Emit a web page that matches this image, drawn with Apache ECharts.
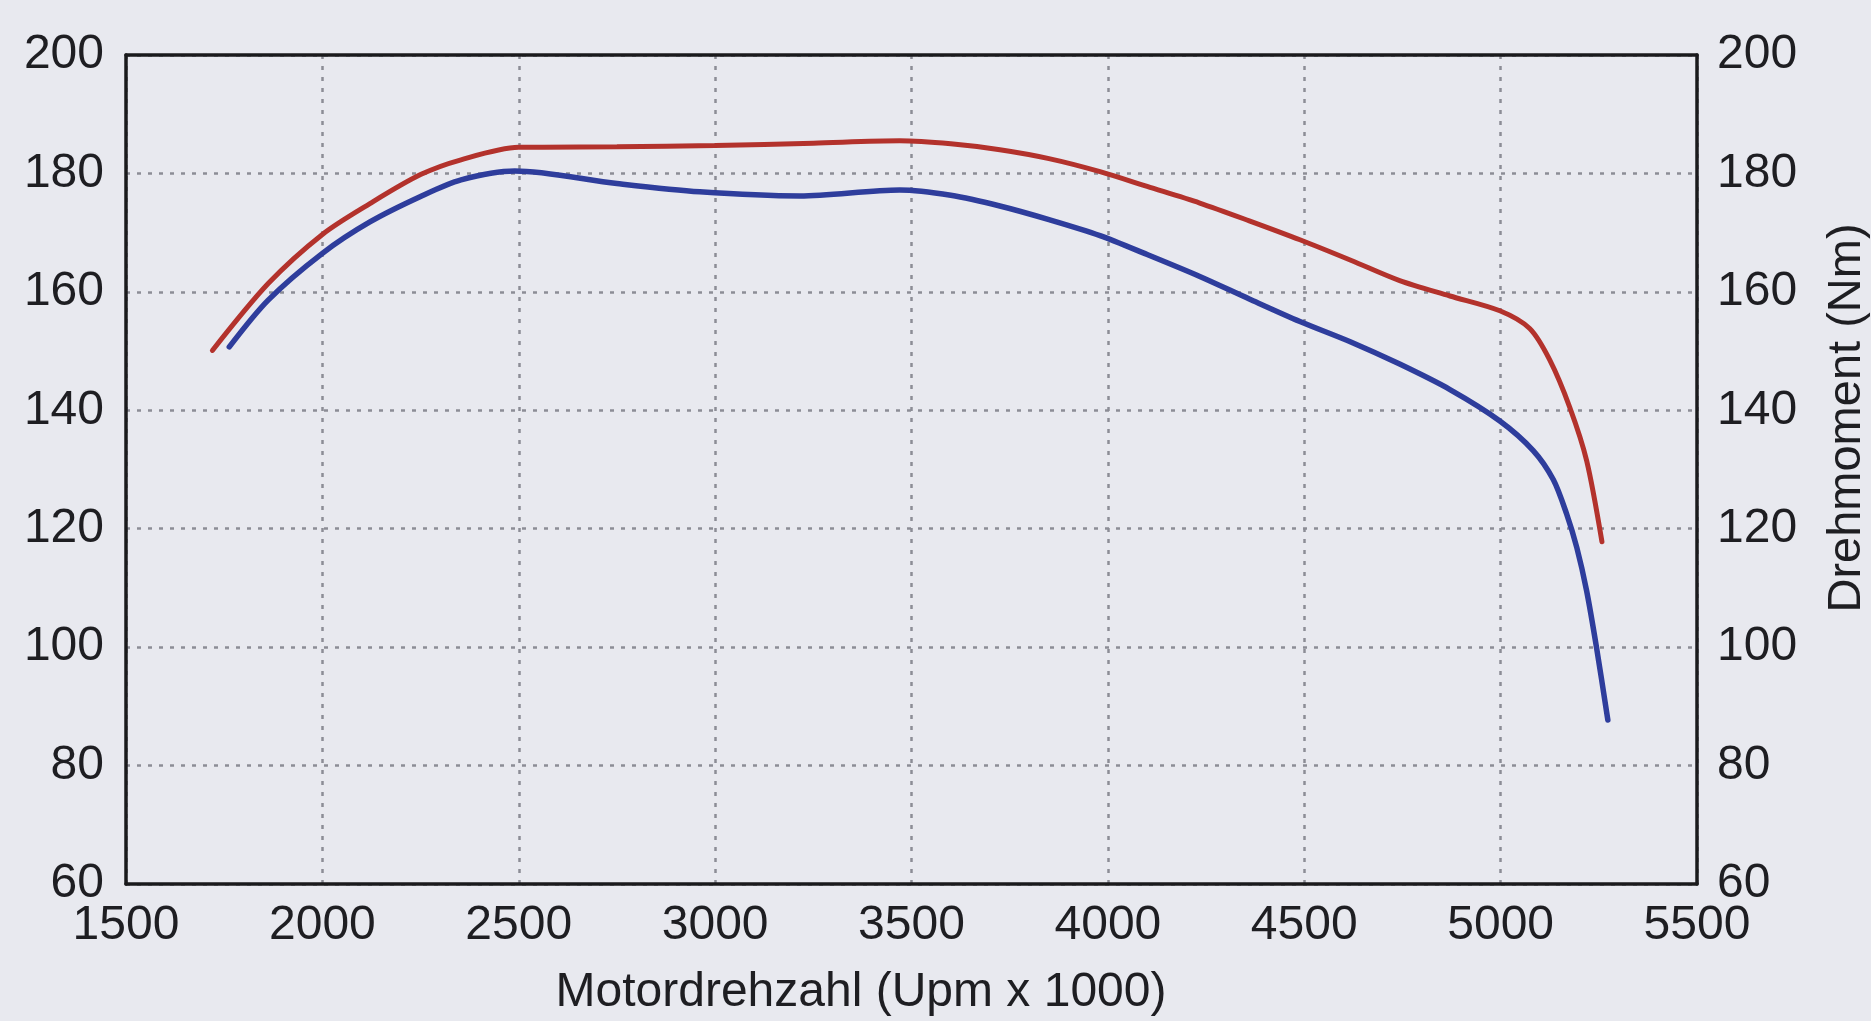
<!DOCTYPE html>
<html>
<head>
<meta charset="utf-8">
<script src="https://cdn.jsdelivr.net/npm/echarts@6/dist/echarts.min.js"></script>
<style>
  html, body { margin: 0; padding: 0; background: #e8e9ef; }
  #chart { width: 1871px; height: 1021px; }
</style>
</head>
<body>
<div id="chart"></div>
<script>
// x ticks (rpm) and y ticks (Nm)
const xTicks = [1500, 2000, 2500, 3000, 3500, 4000, 4500, 5000, 5500];
const yTicks = [60, 80, 100, 120, 140, 160, 180, 200];

// red curve
const rpmRed = [1720, 1862, 2000, 2121, 2250, 2353, 2500, 2750, 3000, 3250, 3470, 3600, 3725, 3850, 3980, 4100, 4234, 4360, 4489, 4620, 4743, 4871, 4998, 5074, 5125, 5176, 5219, 5258];
const torqueRed = [150.1, 161.4, 169.7, 174.9, 179.8, 182.3, 184.4, 184.5, 184.7, 185.1, 185.5, 185.0, 184.0, 182.5, 180.3, 177.8, 175.0, 172.0, 168.8, 165.3, 161.9, 159.3, 156.8, 153.8, 148.5, 140.5, 131.5, 117.8];

// blue curve
const rpmBlue = [1763, 1862, 2000, 2121, 2250, 2353, 2490, 2750, 2961, 3216, 3470, 3600, 3725, 3850, 3980, 4100, 4234, 4360, 4489, 4620, 4743, 4871, 4998, 5083, 5134, 5168, 5194, 5219, 5244, 5273];
const torqueBlue = [150.7, 158.6, 166.5, 171.8, 176.1, 178.9, 180.4, 178.3, 176.9, 176.2, 177.2, 176.3, 174.5, 172.2, 169.5, 166.3, 162.6, 158.8, 155.0, 151.5, 147.8, 143.5, 138.2, 133.2, 128.3, 122.5, 116.8, 109.5, 100.0, 87.7];

const chart = echarts.init(document.getElementById('chart'));

const font = '"Liberation Sans", Arial, sans-serif';
const labelStyle = { color: '#1e1e22', fontSize: 48, fontFamily: font, formatter: (v) => String(v) };
const dotted = { color: '#8c8d96', width: 2.5, type: [4, 7] };
const frame = { show: true, onZero: false, lineStyle: { color: '#1a1a1c', width: 3.5 } };

const pairs = (xs, ys) => xs.map((x, i) => [x, ys[i]]);

const xBase = {
  type: 'value',
  min: xTicks[0],
  max: xTicks[xTicks.length - 1],
  interval: 500,
  axisTick: { show: false },
};
const yBase = {
  type: 'value',
  min: yTicks[0],
  max: yTicks[yTicks.length - 1],
  interval: 20,
  axisTick: { show: false },
  splitLine: { show: false },
};

chart.setOption({
  backgroundColor: '#e8e9ef',
  animation: false,
  grid: { left: 126, right: 174, top: 55, bottom: 137 },
  xAxis: [
    {
      ...xBase,
      position: 'bottom',
      axisLine: frame,
      axisLabel: { ...labelStyle, margin: 18 },
      splitLine: { show: true, lineStyle: dotted },
    },
    {
      ...xBase,
      position: 'top',
      axisLine: frame,
      axisLabel: { show: false },
      splitLine: { show: false },
    },
  ],
  yAxis: [
    {
      ...yBase,
      position: 'left',
      axisLine: frame,
      axisLabel: { ...labelStyle, margin: 22 },
      splitLine: { show: true, lineStyle: dotted },
    },
    {
      ...yBase,
      position: 'right',
      axisLine: frame,
      axisLabel: { ...labelStyle, margin: 20 },
    },
  ],
  graphic: [
    {
      type: 'text',
      x: 861, y: 993,
      style: {
        text: 'Motordrehzahl (Upm x 1000)',
        font: '48px ' + font,
        fill: '#1e1e22',
        align: 'center',
        verticalAlign: 'middle',
      },
    },
    {
      type: 'text',
      x: 1847, y: 418,
      rotation: Math.PI / 2,
      style: {
        text: 'Drehmoment (Nm)',
        font: '47px ' + font,
        fill: '#1e1e22',
        align: 'center',
        verticalAlign: 'middle',
      },
    },
  ],
  series: [
    {
      type: 'line',
      name: 'rot',
      data: pairs(rpmRed, torqueRed),
      smooth: 0.3,
      showSymbol: false,
      lineStyle: { color: '#b3322c', width: 5, cap: 'round' },
    },
    {
      type: 'line',
      name: 'blau',
      data: pairs(rpmBlue, torqueBlue),
      smooth: 0.3,
      showSymbol: false,
      lineStyle: { color: '#2e3d9c', width: 5.5, cap: 'round' },
    },
  ],
});
</script>
</body>
</html>
